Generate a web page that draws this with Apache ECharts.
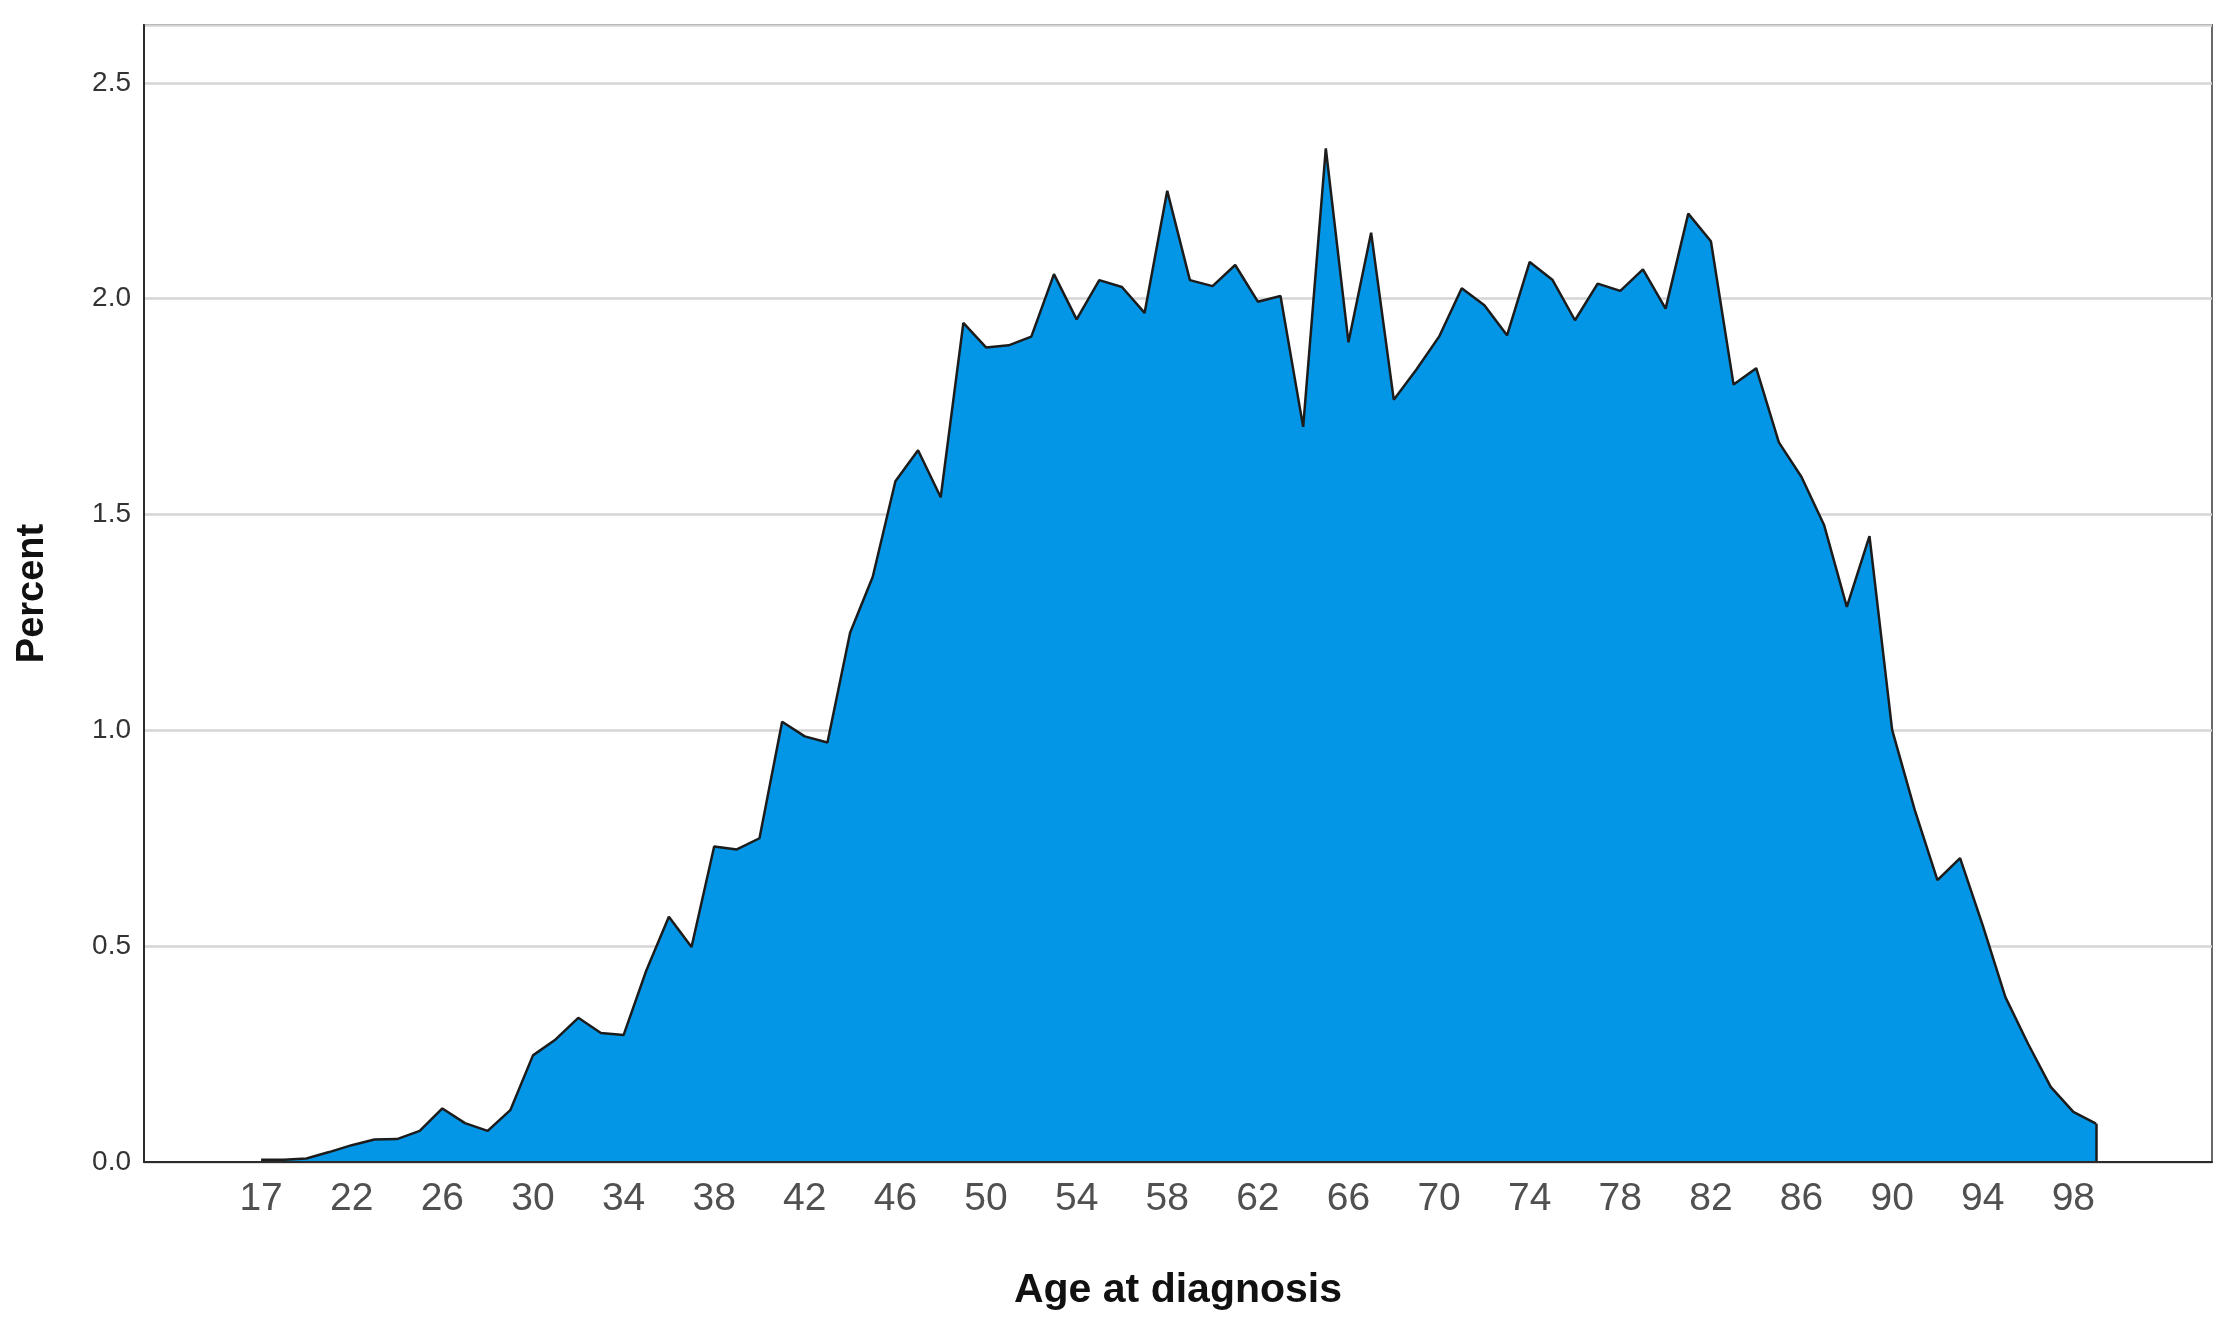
<!DOCTYPE html>
<html>
<head>
<meta charset="utf-8">
<script src="https://cdn.jsdelivr.net/npm/echarts@6/dist/echarts.min.js"></script>
<style>
  html, body { margin: 0; padding: 0; background: #ffffff; }
  #chart { width: 2235px; height: 1332px; }
</style>
</head>
<body>
<div id="chart"></div>
<script>
// Age categories present in the data (18 has no cases)
const ages = [17, 19, 20, 21, 22, 23, 24, 25, 26, 27, 28, 29, 30, 31, 32, 33, 34, 35, 36, 37, 38,
  39, 40, 41, 42, 43, 44, 45, 46, 47, 48, 49, 50, 51, 52, 53, 54, 55, 56, 57, 58, 59, 60,
  61, 62, 63, 64, 65, 66, 67, 68, 69, 70, 71, 72, 73, 74, 75, 76, 77, 78, 79, 80, 81, 82,
  83, 84, 85, 86, 87, 88, 89, 90, 91, 92, 93, 94, 95, 96, 97, 98, 99];

// Percent of cases at each age
const percent = [0.005, 0.005, 0.008, 0.023, 0.039, 0.052, 0.053, 0.072, 0.124, 0.090, 0.072,
  0.120, 0.247, 0.284, 0.334, 0.299, 0.294, 0.443, 0.568, 0.498, 0.731, 0.724, 0.750,
  1.020, 0.986, 0.972, 1.226, 1.356, 1.577, 1.649, 1.540, 1.944, 1.887, 1.892, 1.912,
  2.057, 1.952, 2.043, 2.027, 1.967, 2.250, 2.043, 2.029, 2.078, 1.993, 2.006, 1.703,
  2.348, 1.899, 2.153, 1.766, 1.836, 1.912, 2.024, 1.985, 1.915, 2.085, 2.044, 1.950,
  2.035, 2.018, 2.068, 1.977, 2.197, 2.133, 1.801, 1.839, 1.667, 1.587, 1.475, 1.286,
  1.450, 1.001, 0.815, 0.653, 0.704, 0.548, 0.382, 0.274, 0.174, 0.116, 0.089];

// Tick labels on the x axis
const xTickLabels = [17, 22, 26, 30, 34, 38, 42, 46, 50, 54, 58, 62, 66, 70, 74, 78, 82, 86, 90, 94, 98];
// Tick labels on the y axis
const yTickLabels = [0.0, 0.5, 1.0, 1.5, 2.0, 2.5];

const xTickIdx = xTickLabels.map(a => ages.indexOf(a));
const seriesData = percent.map((v, i) => [i, v]);
const lastIdx = ages.length - 1;

const FONT = "'Liberation Sans', Arial, Helvetica, sans-serif";

const chart = echarts.init(document.getElementById('chart'), null, { renderer: 'canvas' });
chart.setOption({
  animation: false,
  backgroundColor: '#ffffff',
  grid: {
    left: 144, right: 23, top: 25, bottom: 170,
    show: true, borderColor: '#6a6a6a', borderWidth: 2, backgroundColor: 'transparent'
  },
  xAxis: {
    type: 'value',
    min: -5.17,
    max: lastIdx + 5.12,
    z: 5,
    name: 'Age at diagnosis',
    nameLocation: 'middle',
    nameGap: 108,
    nameTextStyle: { fontFamily: FONT, fontSize: 41, fontWeight: 'bold', color: '#111' },
    axisLine: { show: true, onZero: false, lineStyle: { color: '#2b2b2b', width: 2 } },
    axisTick: { show: false },
    splitLine: { show: false },
    axisLabel: {
      customValues: xTickIdx,
      margin: 18,
      fontFamily: FONT,
      fontSize: 39,
      color: '#505050',
      formatter: v => String(ages[Math.round(v)])
    }
  },
  yAxis: {
    type: 'value',
    min: 0,
    max: 2.634,
    interval: 0.5,
    z: 0,
    name: 'Percent',
    nameLocation: 'middle',
    nameGap: 92,
    nameTextStyle: { fontFamily: FONT, fontSize: 38, fontWeight: 'bold', color: '#111' },
    axisLine: { show: true, onZero: false, lineStyle: { color: '#2b2b2b', width: 2 } },
    axisTick: { show: false },
    axisLabel: {
      customValues: yTickLabels,
      margin: 13,
      fontFamily: FONT,
      fontSize: 28,
      color: '#333333',
      formatter: v => v.toFixed(1)
    },
    splitLine: { show: true, lineStyle: { color: '#d5d5d5', width: 2.5 } }
  },
  series: [{
    type: 'line',
    data: seriesData,
    symbol: 'none',
    z: 2,
    lineStyle: { color: '#1c1c1c', width: 2.5 },
    areaStyle: { color: '#0396e6', opacity: 1 },
    markLine: {
      silent: true,
      symbol: ['none', 'none'],
      label: { show: false },
      lineStyle: { color: '#1c1c1c', width: 2.5, type: 'solid' },
      data: [[{ coord: [lastIdx, 0] }, { coord: [lastIdx, percent[lastIdx]] }]]
    }
  }]
});
</script>
</body>
</html>
